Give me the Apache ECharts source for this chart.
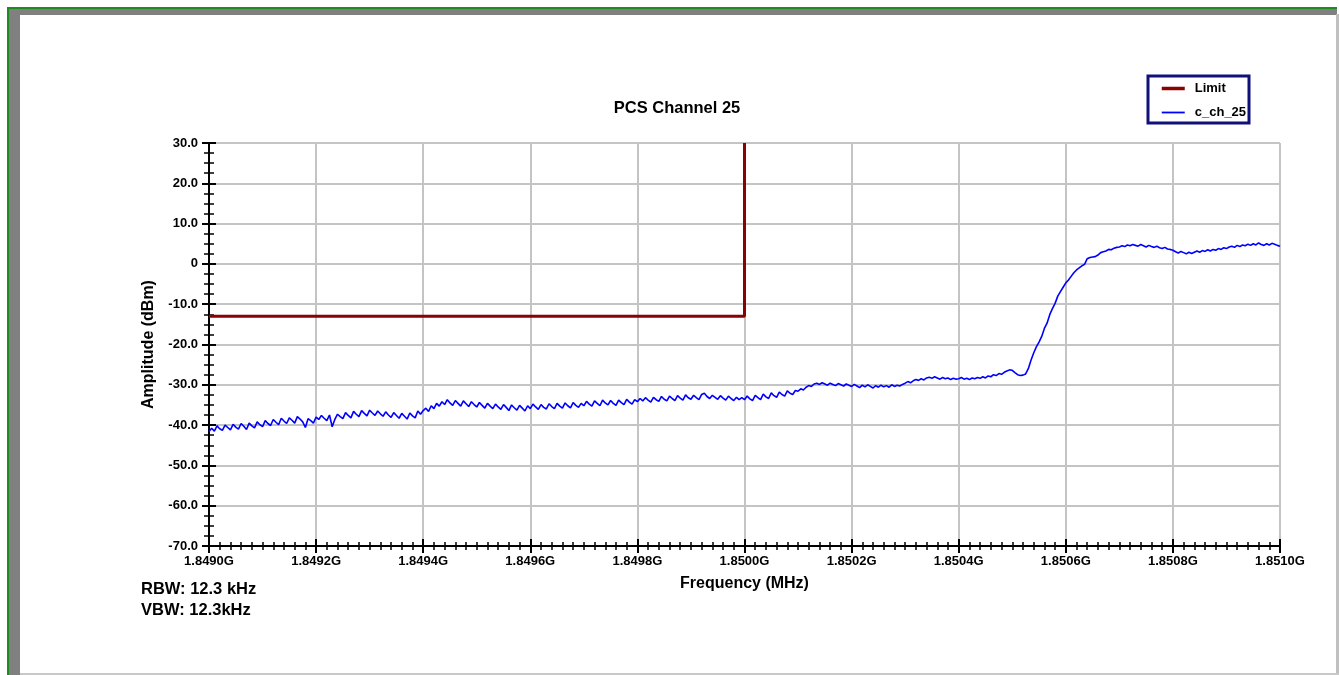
<!DOCTYPE html>
<html>
<head>
<meta charset="utf-8">
<title>PCS Channel 25</title>
<script src="https://cdn.jsdelivr.net/npm/echarts@6/dist/echarts.min.js"></script>
<style>
  html, body { margin: 0; padding: 0; background: #fff; }
  #chart { width: 1339px; height: 675px; }
</style>
</head>
<body>
<div id="chart"></div>
<script>
// sweep: 1849.000 MHz .. 1851.000 MHz, one reading every 5 kHz
var freqStart = 1849.0;
var freqStep = 0.005;

// c_ch_25 trace, dBm (one row = 100 kHz)
var traceValues = [
  -41.6, -40.8, -41.5, -40.2, -40.9, -41.3, -40.0, -40.6, -41.2, -39.8, -40.5, -41.0, -39.6, -40.3, -41.1, -39.5, -40.2, -40.7, -39.2, -39.9,
  -40.4, -38.9, -39.6, -40.1, -38.6, -39.3, -39.9, -38.3, -39.0, -39.6, -38.2, -38.8, -39.5, -37.9, -38.5, -39.2, -40.6, -38.4, -38.9, -39.5,
  -38.0, -38.6, -37.6, -38.3, -38.9, -37.5, -40.4, -38.6, -37.3, -37.9, -38.4, -36.9, -37.6, -38.2, -36.6, -37.3, -37.9, -36.4, -37.1, -37.7,
  -36.3, -37.0, -37.6, -36.5, -37.2, -37.8, -36.7, -37.5, -38.1, -36.9, -37.6, -38.3, -37.1, -37.8, -38.5, -37.0, -37.7, -38.2, -36.5, -37.3,
  -36.4, -35.8, -36.6, -35.2, -35.9, -34.6, -35.3, -34.2, -34.9, -33.7, -34.5, -35.1, -33.9, -34.6, -35.3, -34.0, -34.7, -35.4, -34.2, -34.9,
  -35.5, -34.4, -35.1, -35.8, -34.6, -35.3, -35.9, -34.8, -35.5, -36.1, -34.9, -35.6, -36.4, -35.0, -35.7, -36.3, -35.1, -35.8, -36.5, -35.2,
  -35.9, -34.8, -35.5, -36.1, -34.9, -35.6, -36.0, -34.7, -35.4, -35.9, -34.6, -35.3, -35.8, -34.5, -35.2, -35.7, -34.4, -35.1, -35.6, -34.6,
  -35.2, -34.1, -34.8, -35.3, -34.0, -34.6, -35.2, -33.8, -34.5, -35.0, -33.9, -34.6, -35.1, -33.8, -34.4, -34.9, -33.6, -34.3, -34.8, -33.7,
  -34.2, -33.4, -34.0, -33.2, -33.8, -34.3, -33.1, -33.7, -34.1, -32.9, -33.6, -34.0, -32.8, -33.4, -33.9, -32.7, -33.3, -33.8, -32.5, -33.2,
  -33.6, -32.6, -33.2, -33.7, -32.4, -32.1, -32.9, -33.4, -32.6, -33.1, -33.6, -32.7, -33.3, -33.8, -32.8, -33.4, -33.9, -33.1, -33.7, -33.2,
  -33.7, -32.8, -33.5, -33.9, -32.6, -33.2, -33.7, -32.3, -33.0, -33.4, -32.0, -32.7, -33.1, -31.8, -32.4, -32.8, -31.5, -32.1, -32.4, -31.4,
  -31.6, -31.0, -31.3, -30.6, -30.2, -30.4, -29.8, -29.6, -29.9, -29.5, -29.8, -30.1, -29.6, -29.9, -30.2, -29.7, -30.0, -30.3, -29.8, -30.1,
  -30.4, -29.9, -30.3, -30.7, -30.1, -30.5, -30.0, -30.4, -30.8, -30.2, -30.6, -30.1, -30.5, -30.2, -30.6, -30.0, -30.4, -30.1, -30.3, -29.9,
  -29.6, -29.2, -29.5, -29.0, -28.7, -28.9, -28.5, -28.8, -28.3, -28.1, -28.4, -28.0, -28.3, -28.6, -28.2, -28.5, -28.3, -28.7, -28.4, -28.6,
  -28.5, -28.2, -28.6, -28.4, -28.7, -28.3, -28.5, -28.2, -28.4, -28.0, -28.3, -27.8, -28.0, -27.5, -27.7, -27.2, -27.4, -26.9, -26.6, -26.3,
  -26.4, -27.0, -27.5, -27.7, -27.6, -27.3, -26.0, -23.9, -22.1, -20.6, -19.4, -18.0, -16.0, -14.7, -12.6, -11.1, -9.8, -8.0, -6.9, -5.8,
  -4.7, -4.0, -3.1, -2.2, -1.5, -1.0, -0.5, -0.1, 1.3, 1.6, 1.7, 1.8, 2.2, 2.8, 3.0, 3.2, 3.6, 3.5, 3.9, 4.1,
  4.2, 4.5, 4.3, 4.7, 4.5, 4.8, 4.6, 4.4, 4.8, 4.5, 4.2, 4.6, 4.3, 4.1, 4.4, 4.0, 3.8, 4.1, 3.7, 3.6,
  3.4, 3.0, 2.7, 3.1, 2.8, 2.5, 2.9, 2.6, 2.9, 3.2, 2.9, 3.3, 3.1, 3.5, 3.2, 3.6, 3.4, 3.8, 3.6, 4.0,
  3.8, 4.2, 4.4, 4.1, 4.6, 4.3, 4.7, 4.5, 4.9, 4.6, 5.0, 4.7, 5.2, 4.8, 4.6, 5.0, 4.7, 5.1, 4.9, 4.6,
  4.4
];

// limit line: -13 dBm up to 1850.0 MHz, then straight up
var limitFreq = [1849.0, 1850.0, 1850.0];
var limitValues = [-13, -13, 30];

var seriesNames = ['Limit', 'c_ch_25'];
var chartTitle = 'PCS Channel 25';
var xName = 'Frequency (MHz)';
var yName = 'Amplitude (dBm)';
var notes = ['RBW: 12.3 kHz', 'VBW: 12.3kHz'];

var font = '"Liberation Sans", Arial, sans-serif';

var traceData = traceValues.map(function (v, i) {
  return [Number((freqStart + i * freqStep).toFixed(3)), v];
});
var limitData = limitFreq.map(function (f, i) { return [f, limitValues[i]]; });

var myChart = echarts.init(document.getElementById('chart'));

function xFmt(v) { return (v / 1000).toFixed(4) + 'G'; }
function yFmt(v) { return v === 0 ? '0' : v.toFixed(1); }

var labelStyle = { color: '#000', fontWeight: 'bold', fontSize: 13, fontFamily: font };
var nameStyle = { color: '#000', fontWeight: 'bold', fontSize: 16, fontFamily: font };

var xBase = {
  type: 'value', min: 1849, max: 1851, interval: 0.2, position: 'bottom'
};
var yBase = {
  type: 'value', min: -70, max: 30, interval: 10, position: 'left'
};

var option = {
  animation: false,
  backgroundColor: '#fff',
  title: {
    text: chartTitle,
    left: 672, top: 95, textAlign: 'center',
    textStyle: { color: '#000', fontWeight: 'bold', fontSize: 16.5, fontFamily: font }
  },
  legend: {
    orient: 'vertical',
    left: 1160, top: 82, padding: 0,
    itemWidth: 23, itemHeight: 14, itemGap: 11,
    itemStyle: { color: 'transparent', borderColor: 'transparent', borderWidth: 0, opacity: 0 },
    textStyle: { color: '#000', fontWeight: 'bold', fontSize: 13, fontFamily: font, padding: [0, 0, 0, 5] },
    data: [
      { name: seriesNames[0], lineStyle: { width: 3.5 } },
      { name: seriesNames[1], lineStyle: { width: 1.8 } }
    ]
  },
  grid: { left: 209, right: 59, top: 143, bottom: 129 },
  xAxis: [
    Object.assign({}, xBase, {
      name: xName, nameLocation: 'middle', nameGap: 30,
      nameTextStyle: nameStyle,
      axisLine: { show: true, onZero: false, lineStyle: { color: '#000', width: 2 } },
      axisTick: { show: true, inside: false, length: 7, lineStyle: { color: '#000', width: 2 } },
      minorTick: { show: true, splitNumber: 10, length: 4, lineStyle: { color: '#000', width: 1.5 } },
      axisLabel: Object.assign({ formatter: xFmt, margin: 9 }, labelStyle),
      splitLine: { show: true, lineStyle: { color: '#c4c4c4', width: 2 } }
    }),
    Object.assign({}, xBase, {
      axisLine: { show: false, onZero: false },
      axisTick: { show: true, inside: true, length: 7, lineStyle: { color: '#000', width: 2 } },
      minorTick: { show: true, splitNumber: 10, length: 4, lineStyle: { color: '#000', width: 1.5 } },
      axisLabel: { show: false },
      splitLine: { show: false }
    })
  ],
  yAxis: [
    Object.assign({}, yBase, {
      name: yName, nameLocation: 'middle', nameGap: 52,
      nameTextStyle: nameStyle,
      axisLine: { show: true, onZero: false, lineStyle: { color: '#000', width: 2 } },
      axisTick: { show: true, inside: false, length: 7, lineStyle: { color: '#000', width: 2 } },
      minorTick: { show: true, splitNumber: 4, length: 5, lineStyle: { color: '#000', width: 1.5 } },
      axisLabel: Object.assign({ formatter: yFmt, margin: 11 }, labelStyle),
      splitLine: { show: true, lineStyle: { color: '#c4c4c4', width: 2 } }
    }),
    Object.assign({}, yBase, {
      axisLine: { show: false, onZero: false },
      axisTick: { show: true, inside: true, length: 7, lineStyle: { color: '#000', width: 2 } },
      minorTick: { show: true, splitNumber: 4, length: 5, lineStyle: { color: '#000', width: 1.5 } },
      axisLabel: { show: false },
      splitLine: { show: false }
    })
  ],
  series: [
    {
      name: seriesNames[0], type: 'line', symbol: 'none',
      xAxisIndex: 0, yAxisIndex: 0,
      color: '#8b0000',
      lineStyle: { color: '#8b0000', width: 3 },
      data: limitData, z: 3
    },
    {
      name: seriesNames[1], type: 'line', symbol: 'none',
      xAxisIndex: 0, yAxisIndex: 0,
      color: '#0000ff',
      lineStyle: { color: '#0000ff', width: 1.6 },
      data: traceData, z: 2
    }
  ],
  graphic: [
    // window frame
    { type: 'rect', shape: { x: 9, y: 9, width: 1328, height: 6 }, style: { fill: '#808080' }, z: -10 },
    { type: 'rect', shape: { x: 9, y: 9, width: 11, height: 666 }, style: { fill: '#808080' }, z: -10 },
    { type: 'rect', shape: { x: 7, y: 7, width: 1330, height: 2 }, style: { fill: '#1f8a1f' }, z: -9 },
    { type: 'rect', shape: { x: 7, y: 7, width: 2, height: 668 }, style: { fill: '#1f8a1f' }, z: -9 },
    { type: 'rect', shape: { x: 1336, y: 14, width: 3, height: 661 }, style: { fill: '#c0c0c0' }, z: -10 },
    { type: 'rect', shape: { x: 20, y: 673, width: 1319, height: 2 }, style: { fill: '#c8c8c8' }, z: -10 },
    // legend box
    { type: 'rect', shape: { x: 1148, y: 76, width: 101, height: 47 }, style: { fill: 'transparent', stroke: '#10107a', lineWidth: 3 }, z: 1 },
    // resolution notes
    { type: 'text', left: 141, top: 581, style: { text: notes[0], fill: '#000', font: 'bold 16.5px ' + font } },
    { type: 'text', left: 141, top: 602, style: { text: notes[1], fill: '#000', font: 'bold 16.5px ' + font } }
  ]
};

myChart.setOption(option);
</script>
</body>
</html>
